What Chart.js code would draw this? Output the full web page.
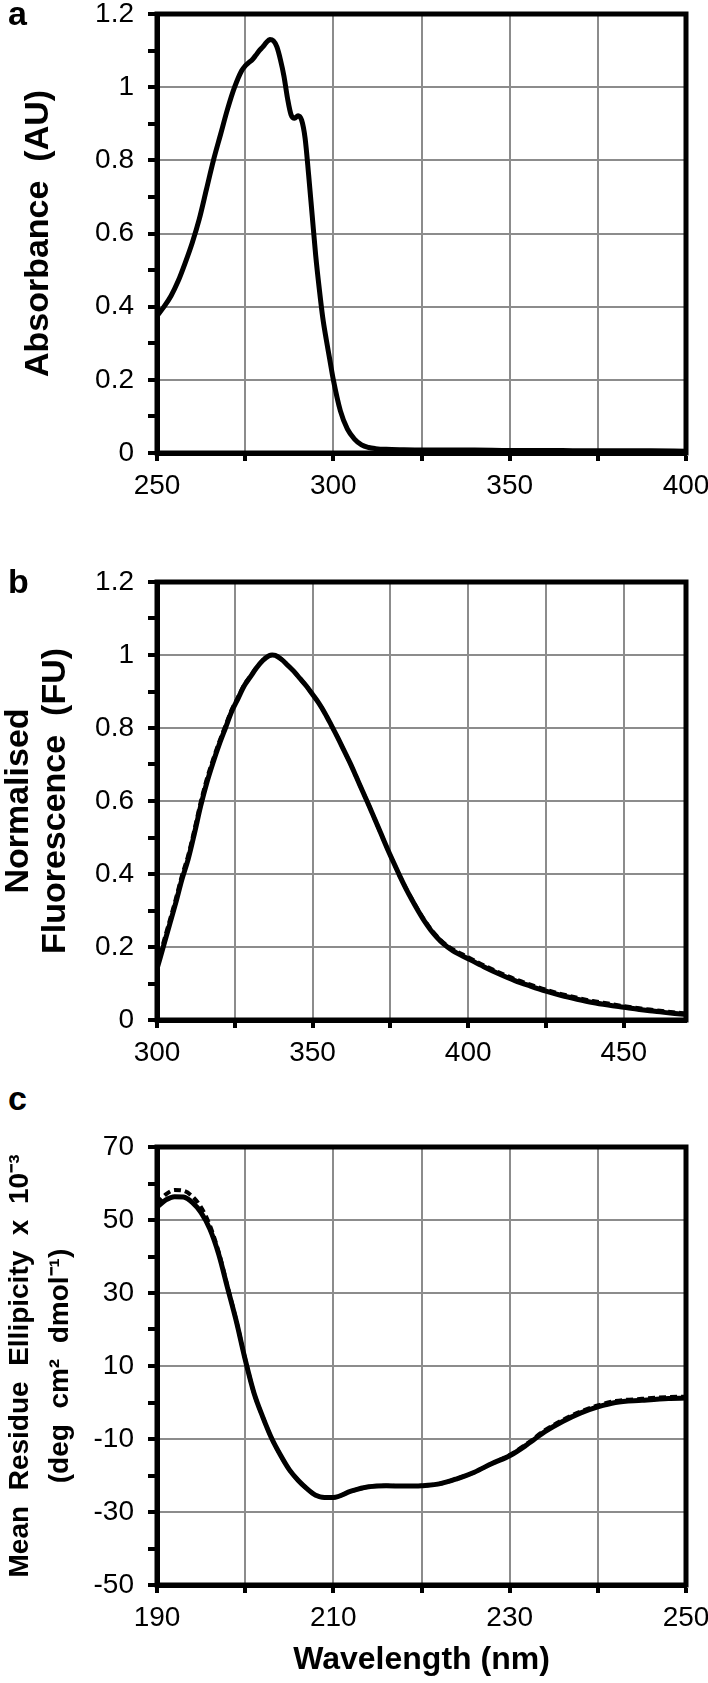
<!DOCTYPE html>
<html>
<head>
<meta charset="utf-8">
<script src="https://cdn.jsdelivr.net/npm/chart.js@4/dist/chart.umd.min.js"></script>
<style>
  body { margin: 0; background: #fff; }
  #page { position: relative; width: 708px; height: 1683px; }
  canvas { position: absolute; left: 0; }
  .letter { position: absolute; left: 8px; font: bold 34px "Liberation Sans", Arial, sans-serif; color: #000; }
</style>
</head>
<body>
<div id="page">
  <canvas id="chartA" width="708" height="510" style="top:0px"></canvas>
  <canvas id="chartB" width="708" height="517" style="top:560px"></canvas>
  <canvas id="chartC" width="708" height="563" style="top:1120px"></canvas>
  <div class="letter" style="top:-6px">a</div>
  <div class="letter" style="top:562px">b</div>
  <div class="letter" style="top:1079px">c</div>
</div>
<script>
// panel a - absorbance
const aWavelength = [250, 252, 254, 256, 258, 260, 262, 264, 266, 268, 270, 272, 274, 275, 276, 277, 278, 279, 280, 281, 282, 283, 284, 285, 286, 287, 288, 289, 290, 291, 292, 293, 294, 295, 296, 297, 298, 299, 300, 302, 304, 306, 308, 310, 312, 315, 320, 330, 340, 350, 360, 370, 380, 390, 400];
const aAbsorbance = [0.375, 0.4, 0.43, 0.47, 0.52, 0.575, 0.64, 0.72, 0.8, 0.87, 0.94, 1.0, 1.045, 1.058, 1.067, 1.075, 1.087, 1.1, 1.11, 1.122, 1.13, 1.127, 1.11, 1.075, 1.03, 0.97, 0.925, 0.915, 0.922, 0.91, 0.86, 0.76, 0.65, 0.54, 0.45, 0.37, 0.31, 0.255, 0.2, 0.115, 0.065, 0.038, 0.022, 0.015, 0.012, 0.01, 0.009, 0.008, 0.008, 0.007, 0.007, 0.006, 0.006, 0.006, 0.005];

// panel b - normalised fluorescence
const bWavelength = [300, 302, 304, 306, 308, 310, 312, 314, 316, 318, 320, 322, 324, 326, 328, 330, 332, 334, 336, 337, 338, 340, 342, 344, 346, 348, 350, 352, 354, 356, 358, 360, 362, 364, 366, 368, 370, 372, 374, 376, 378, 380, 382, 384, 386, 388, 390, 392, 395, 400, 405, 410, 415, 420, 425, 430, 435, 440, 445, 450, 455, 460, 465, 470];
const bSolid = [0.14, 0.2, 0.26, 0.32, 0.385, 0.44, 0.51, 0.585, 0.65, 0.705, 0.755, 0.8, 0.845, 0.88, 0.915, 0.94, 0.965, 0.985, 0.998, 1.0, 0.999, 0.988, 0.972, 0.955, 0.935, 0.915, 0.892, 0.868, 0.84, 0.808, 0.775, 0.74, 0.705, 0.667, 0.628, 0.59, 0.55, 0.51, 0.47, 0.432, 0.395, 0.36, 0.328, 0.298, 0.27, 0.246, 0.226, 0.209, 0.19, 0.168, 0.146, 0.126, 0.108, 0.093, 0.079, 0.067, 0.057, 0.048, 0.041, 0.035, 0.029, 0.024, 0.019, 0.015];
const bDashed = [0.15, 0.21, 0.27, 0.33, 0.395, 0.45, 0.52, 0.595, 0.66, 0.713, 0.762, 0.806, 0.85, 0.884, 0.918, 0.942, 0.966, 0.986, 0.998, 1.0, 0.999, 0.988, 0.972, 0.955, 0.935, 0.915, 0.892, 0.868, 0.84, 0.808, 0.775, 0.74, 0.705, 0.667, 0.628, 0.59, 0.55, 0.51, 0.47, 0.432, 0.395, 0.361, 0.33, 0.3, 0.273, 0.249, 0.229, 0.212, 0.194, 0.172, 0.15, 0.13, 0.112, 0.097, 0.083, 0.071, 0.061, 0.052, 0.045, 0.038, 0.032, 0.027, 0.022, 0.018];

// panel c - circular dichroism
const cWavelength = [190, 191, 192, 193, 194, 195, 196, 197, 198, 199, 200, 201, 202, 203, 204, 205, 206, 207, 208, 209, 210, 212, 214, 216, 218, 220, 222, 224, 226, 228, 230, 232, 234, 236, 238, 240, 242, 245, 248, 250];
const cSolid = [53.5, 55.5, 56.4, 56.3, 54.8, 52, 47.5, 40.6, 31.4, 22.2, 11.8, 2.6, -4, -9.8, -14.4, -18.4, -21.3, -23.6, -25.4, -26, -26, -24.3, -23.1, -22.8, -22.9, -22.8, -22.3, -20.9, -19.1, -16.7, -14.6, -11.5, -8, -5.2, -2.9, -1.2, 0, 0.6, 1.1, 1.2];
const cDashed = [54.5, 57, 58.2, 58, 56.5, 53.5, 48.5, 41.2, 31.8, 22.4, 11.9, 2.6, -4, -9.8, -14.4, -18.4, -21.3, -23.6, -25.4, -26, -26, -24.3, -23.1, -22.8, -22.9, -22.8, -22.3, -20.9, -19.1, -16.7, -14.4, -11.2, -7.6, -4.8, -2.5, -0.8, 0.4, 1, 1.5, 1.6];

const tickFont = { family: '"Liberation Sans", Arial, sans-serif', size: 28 };
const gridGray = '#8c8c8c';

const framePlugin = {
    id: 'frame',
    afterDraw(chart) {
        const { ctx, chartArea: a } = chart;
        ctx.save();
        ctx.lineWidth = 5;
        ctx.strokeStyle = '#000';
        ctx.strokeRect(a.left, a.top, a.right - a.left, a.bottom - a.top);
        ctx.restore();
    }
};

const toXY = (xs, ys) => xs.map((x, i) => ({ x: x, y: ys[i] }));

// ticks every `step` from min, without the extra tick at a non-round max
const stepTicks = (min, max, step) => s => {
    s.ticks = [];
    for (let v = min; v <= max + 1e-9; v += step) s.ticks.push({ value: Number(v.toFixed(6)) });
};

const solidLine = (data) => ({
    data: data, borderColor: '#000', borderWidth: 5, pointRadius: 0,
    cubicInterpolationMode: 'monotone', order: 1
});
const dashedLine = (data) => ({
    data: data, borderColor: '#000', borderWidth: 4, borderDash: [7, 4], pointRadius: 0,
    cubicInterpolationMode: 'monotone', order: 2
});

const makePanel = (id, datasets, xAxis, yAxis, padTop, xHeight) => {
    new Chart(id, {
        type: 'line',
        data: { datasets: datasets },
        plugins: [framePlugin],
        options: {
            responsive: false,
            animation: false,
            layout: { padding: { top: padTop, right: 22, left: 0, bottom: 0 } },
            plugins: { legend: { display: false }, tooltip: { enabled: false } },
            scales: {
                x: {
                    type: 'linear',
                    min: xAxis.min, max: xAxis.max,
                    border: { display: true, color: '#000', width: 5 },
                    grid: { color: gridGray, lineWidth: 2, tickColor: '#000', tickLength: 8, tickWidth: 4 },
                    ticks: {
                        autoSkip: false, maxRotation: 0, padding: 8,
                        color: '#000', font: tickFont,
                        callback: v => ((v - xAxis.min) % xAxis.labelEvery === 0 ? String(v) : '')
                    },
                    afterBuildTicks: stepTicks(xAxis.min, xAxis.max, xAxis.step),
                    title: xAxis.title ? { display: true, text: xAxis.title, color: '#000', font: { family: '"Liberation Sans", Arial, sans-serif', size: 32, weight: 'bold' }, padding: { top: 0, bottom: 4 } } : { display: false },
                    afterFit: s => { s.height = xHeight; s.paddingLeft = 0; s.paddingRight = 0; }
                },
                y: {
                    min: yAxis.min, max: yAxis.max,
                    border: { display: true, color: '#000', width: 5 },
                    grid: {
                        color: c => (yAxis.isMajor(c.tick.value) ? gridGray : 'rgba(0,0,0,0)'),
                        lineWidth: 2, tickColor: '#000', tickLength: 9, tickWidth: 4
                    },
                    ticks: {
                        autoSkip: false, padding: 14,
                        color: '#000', font: tickFont,
                        callback: v => (yAxis.isMajor(v) ? yAxis.format(v) : '')
                    },
                    afterBuildTicks: stepTicks(yAxis.min, yAxis.max, yAxis.step),
                    title: { display: true, text: yAxis.title, color: '#000', font: yAxis.titleFont, padding: { top: yAxis.titlePad, bottom: 0 } },
                    afterFit: s => { s.width = 157; s.paddingTop = 0; s.paddingBottom = 0; }
                }
            }
        }
    });
};

const fracMajor = v => Math.abs(v * 5 - Math.round(v * 5)) < 1e-6;
const fracFormat = v => String(Number(v.toFixed(1)));
const boldFont = (size, lineHeight) => ({ family: '"Liberation Sans", Arial, sans-serif', size: size, weight: 'bold', lineHeight: lineHeight });

makePanel('chartA',
    [solidLine(toXY(aWavelength, aAbsorbance))],
    { min: 250, max: 400, step: 25, labelEvery: 50 },
    { min: 0, max: 1.2, step: 0.1, isMajor: fracMajor, format: fracFormat, title: 'Absorbance  (AU)', titleFont: boldFont(34, 1.1), titlePad: 20 },
    14, 57);

makePanel('chartB',
    [dashedLine(toXY(bWavelength, bDashed)), solidLine(toXY(bWavelength, bSolid))],
    { min: 300, max: 470, step: 25, labelEvery: 50 },
    { min: 0, max: 1.2, step: 0.1, isMajor: fracMajor, format: fracFormat, title: ['Normalised', 'Fluorescence  (FU)'], titleFont: boldFont(34, 1.1), titlePad: 0 },
    22, 57);

makePanel('chartC',
    [dashedLine(toXY(cWavelength, cDashed)), solidLine(toXY(cWavelength, cSolid))],
    { min: 190, max: 250, step: 10, labelEvery: 20, title: 'Wavelength (nm)' },
    { min: -50, max: 70, step: 10, isMajor: v => (v + 50) % 20 === 0, format: v => String(v), title: ['Mean  Residue  Ellipicity  x  10\u207B\u00B3', '(deg  cm\u00B2  dmol\u207B\u00B9)'], titleFont: boldFont(28, 1.4), titlePad: 1 },
    27, 98);
</script>
</body>
</html>
